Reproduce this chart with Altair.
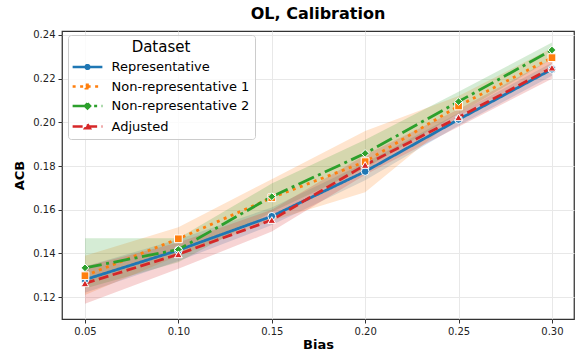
import altair as alt
import pandas as pd

bias = [0.05, 0.10, 0.15, 0.20, 0.25, 0.30]
datasets = ["Representative", "Non-representative 1", "Non-representative 2", "Adjusted"]
colors = ["#1f77b4", "#ff7f0e", "#2ca02c", "#d62728"]

rep_mean = [0.128, 0.1415, 0.157, 0.1775, 0.2013, 0.2243]
rep_low = [0.122, 0.1365, 0.153, 0.1735, 0.1985, 0.2213]
rep_high = [0.134, 0.1465, 0.161, 0.1815, 0.2043, 0.2273]

nr1_mean = [0.1298, 0.1467, 0.1655, 0.182, 0.2075, 0.2296]
nr1_low = [0.121, 0.139, 0.155, 0.168, 0.203, 0.224]
nr1_high = [0.139, 0.152, 0.174, 0.196, 0.212, 0.234]

nr2_mean = [0.1334, 0.1418, 0.166, 0.1858, 0.2095, 0.2331]
nr2_low = [0.124, 0.136, 0.159, 0.179, 0.204, 0.229]
nr2_high = [0.147, 0.147, 0.172, 0.192, 0.214, 0.2365]

adj_mean = [0.1263, 0.1396, 0.1553, 0.1805, 0.2023, 0.225]
adj_low = [0.117, 0.133, 0.150, 0.176, 0.198, 0.220]
adj_high = [0.134, 0.145, 0.160, 0.185, 0.206, 0.229]

series = [(rep_mean, rep_low, rep_high), (nr1_mean, nr1_low, nr1_high),
          (nr2_mean, nr2_low, nr2_high), (adj_mean, adj_low, adj_high)]
rows = []
for name, (m, lo, hi) in zip(datasets, series):
    for b, v, l, h in zip(bias, m, lo, hi):
        rows.append({"Bias": b, "ACB": v, "low": l, "high": h,
                     "Dataset": name, "Dataset ": name})
df = pd.DataFrame(rows)

FONT = "DejaVu Sans"
xscale = alt.Scale(domain=[0.0377, 0.3118], nice=False, zero=False)
yscale = alt.Scale(domain=[0.110, 0.2418], nice=False, zero=False)
dashes = [[1, 0], [3, 4.5], [17, 4.5, 3, 4.5], [10, 4.5]]

L = "M-1.75,0H1.75"
legend_paths = [
    L + "M0.22,0A0.22,0.22,0,1,1,-0.22,0A0.22,0.22,0,1,1,0.22,0Z",
    L + "M-0.2,-0.2H0.2V0.2H-0.2Z",
    L + "M0,-0.3L0.3,0L0,0.3L-0.3,0Z",
    L + "M0,-0.28L0.28,0.2L-0.28,0.2Z",
]

legend = alt.Legend(
    title="Dataset", orient="none", legendX=6, legendY=4,
    fillColor="rgba(255,255,255,0.8)", strokeColor="#cccccc", cornerRadius=3,
    padding=5, titleFontSize=15, titleFontWeight="normal", titleAnchor="middle",
    titlePadding=2,
    titleFont=FONT, titleColor="black", labelFont=FONT, labelFontSize=13,
    labelColor="black", symbolSize=289, symbolStrokeWidth=2.5, symbolOffset=4.5,
    labelOffset=14, rowPadding=2.5, symbolOpacity=1,
)


def cscale():
    return alt.Scale(domain=datasets, range=colors)


base = alt.Chart(df)

bands = base.mark_area(opacity=0.2).encode(
    x=alt.X("Bias:Q", scale=xscale),
    y=alt.Y("low:Q", scale=yscale),
    y2="high:Q",
    color=alt.Color("Dataset:N", sort=datasets, scale=cscale(), legend=None),
    detail="Dataset:N",
)

lines = base.mark_line(strokeWidth=2.8).encode(
    x=alt.X("Bias:Q", scale=xscale,
            axis=alt.Axis(title="Bias", values=bias, format=".2f")),
    y=alt.Y("ACB:Q", scale=yscale,
            axis=alt.Axis(title="ACB", values=[0.12, 0.14, 0.16, 0.18, 0.20, 0.22, 0.24],
                          format=".2f")),
    color=alt.Color("Dataset:N", sort=datasets, scale=cscale(), legend=None),
    strokeDash=alt.StrokeDash("Dataset:N", sort=datasets,
                              scale=alt.Scale(domain=datasets, range=dashes),
                              legend=None),
)

points = base.mark_point(filled=True, size=60, stroke="white", strokeWidth=1, opacity=1).encode(
    x=alt.X("Bias:Q", scale=xscale),
    y=alt.Y("ACB:Q", scale=yscale),
    color=alt.Color("Dataset:N", sort=datasets, scale=cscale(), legend=None),
    shape=alt.Shape("Dataset:N", sort=datasets,
                    scale=alt.Scale(domain=datasets,
                                    range=["circle", "square", "diamond", "triangle-up"]),
                    legend=None),
)

legend_layer = base.mark_point(filled=True, opacity=0, strokeWidth=2.5).encode(
    x=alt.X("Bias:Q", scale=xscale),
    y=alt.Y("ACB:Q", scale=yscale),
    color=alt.Color("Dataset :N", sort=datasets, scale=cscale(), legend=legend),
    stroke=alt.Stroke("Dataset :N", sort=datasets, scale=cscale(), legend=legend),
    strokeDash=alt.StrokeDash("Dataset :N", sort=datasets,
                              scale=alt.Scale(domain=datasets, range=dashes),
                              legend=legend),
    shape=alt.Shape("Dataset :N", sort=datasets,
                    scale=alt.Scale(domain=datasets, range=legend_paths),
                    legend=legend),
)

chart = alt.layer(bands, lines, points, legend_layer).resolve_scale(
    color="independent", shape="independent", strokeDash="independent", stroke="independent"
).properties(
    width=512, height=288,
    title=alt.Title("OL, Calibration", fontSize=16, fontWeight="bold", font=FONT,
                    color="black", offset=8, anchor="middle"),
    autosize=alt.AutoSizeParams(type="none"),
    padding={"left": 62, "top": 31, "right": 1, "bottom": 32},
).configure_view(
    stroke="#333333", strokeWidth=1.25
).configure_axis(
    domain=False, grid=True, gridColor="#e8e8e8", gridWidth=1,
    tickColor="#333333", tickSize=4, tickWidth=1,
    labelFont=FONT, labelFontSize=10, labelColor="#222222", labelPadding=3,
    titleFont=FONT, titleFontSize=13, titleFontWeight="bold", titleColor="black",
).configure_axisX(titlePadding=2).configure_axisY(titlePadding=6)

chart.save("out.html", embed_options={"renderer": "svg", "actions": False})
